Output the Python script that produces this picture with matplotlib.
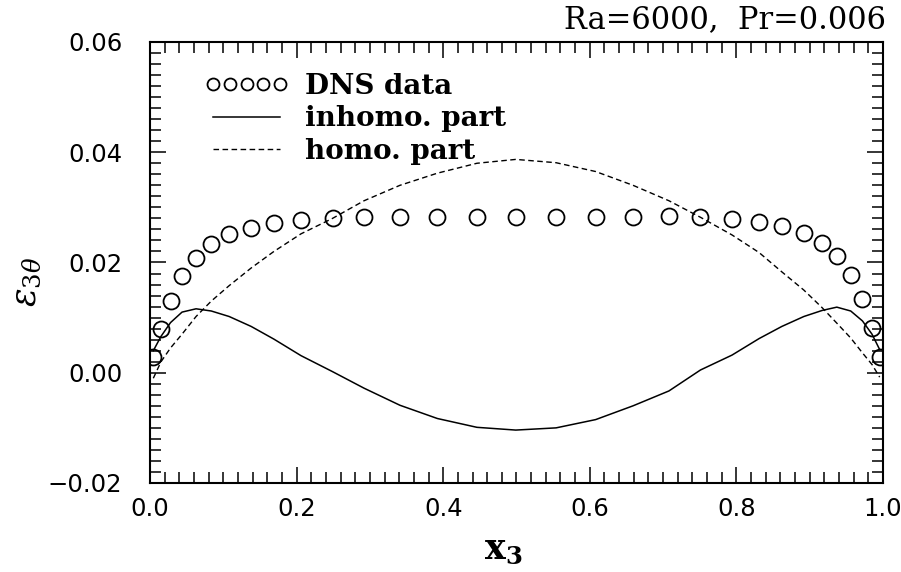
import numpy as np
import matplotlib
matplotlib.use("Agg")
import matplotlib.pyplot as plt
from matplotlib.ticker import MultipleLocator

plt.rcParams['mathtext.fontset'] = 'dejavuserif'

# wall-normal positions (shared by DNS points and model curves)
x3 = [0.0045, 0.015, 0.028, 0.0437, 0.0628, 0.0836, 0.108, 0.138, 0.169, 0.206,
      0.249, 0.292, 0.341, 0.392, 0.446, 0.499, 0.554, 0.608, 0.659, 0.708,
      0.751, 0.794, 0.831, 0.862, 0.892, 0.917, 0.937, 0.956, 0.972, 0.985, 0.9955]

# DNS data
dns = [0.0029, 0.0080, 0.0131, 0.0175, 0.0209, 0.0234, 0.0251, 0.0262, 0.0272, 0.0277,
       0.0281, 0.0283, 0.0283, 0.0283, 0.0282, 0.0282, 0.0282, 0.0282, 0.0283, 0.0284,
       0.0282, 0.0278, 0.0273, 0.0266, 0.0254, 0.0236, 0.0212, 0.0177, 0.0133, 0.0082, 0.0029]

# inhomogeneous part
inhomo = [0.0040, 0.0066, 0.0091, 0.0110, 0.0116, 0.0112, 0.0102, 0.0084, 0.0061, 0.0031,
          0.0002, -0.0028, -0.0059, -0.0083, -0.0099, -0.0104, -0.0100, -0.0085, -0.0060, -0.0033,
          0.0005, 0.0032, 0.0062, 0.0084, 0.0102, 0.0113, 0.0119, 0.0112, 0.0094, 0.0070, 0.0042]

# homogeneous part
homo = [-0.0010, 0.0020, 0.0045, 0.0070, 0.0102, 0.0130, 0.0158, 0.0190, 0.0220, 0.0252,
        0.0280, 0.0312, 0.0340, 0.0362, 0.0380, 0.0387, 0.0381, 0.0365, 0.0340, 0.0312,
        0.0282, 0.0250, 0.0218, 0.0183, 0.0150, 0.0118, 0.0090, 0.0063, 0.0036, 0.0015, -0.0008]

fig = plt.figure(figsize=(9.01, 5.72), dpi=100)
ax = fig.add_axes([0.1665, 0.1556, 0.8135, 0.771])

ax.plot(x3, dns, 'o', ms=11.5, mfc='none', mec='black', mew=1.3, label='DNS data')
ax.plot(x3, inhomo, '-', color='black', lw=1.1, label='inhomo. part')
ax.plot(x3, homo, color='black', lw=1.0, ls=(0, (4, 2.5)), label='homo. part')

ax.set_xlim(0, 1)
ax.set_ylim(-0.02, 0.06)
ax.xaxis.set_major_locator(MultipleLocator(0.2))
ax.xaxis.set_minor_locator(MultipleLocator(0.02))
ax.yaxis.set_major_locator(MultipleLocator(0.02))
ax.yaxis.set_minor_locator(MultipleLocator(0.002))
ax.xaxis.set_major_formatter(plt.FuncFormatter(lambda v, p: '%.1f' % v))
ax.yaxis.set_major_formatter(plt.FuncFormatter(lambda v, p: ('%.2f' % v).replace('-', '\u2212')))

ax.tick_params(which='both', direction='in', top=True, right=True, width=1.1,
               labelsize=17.5)
ax.tick_params(axis='x', pad=10)
ax.tick_params(axis='y', pad=20)
ax.tick_params(which='major', length=11.5)
ax.tick_params(which='minor', length=8)
for lab in ax.get_xticklabels() + ax.get_yticklabels():
    lab.set_family('DejaVu Sans')
for s in ax.spines.values():
    s.set_linewidth(1.5)

ax.set_xlabel(r'$\mathbf{x_3}$', fontsize=25)
ax.xaxis.set_label_coords(0.482, -0.11)
ax.set_ylabel(r'$\epsilon_{3\theta}$', fontsize=25)
ax.yaxis.set_label_coords(-0.146, 0.456)
fig.text(0.983, 0.966, 'Ra=6000,  Pr=0.006', ha='right', va='center',
         family='DejaVu Serif', fontsize=22)

leg = ax.legend(loc='upper left', bbox_to_anchor=(0.06, 0.955), frameon=False,
                numpoints=5, markerscale=0.75, handlelength=3.0, handletextpad=0.6,
                labelspacing=0.2, borderaxespad=0,
                prop={'family': 'DejaVu Serif', 'weight': 'bold', 'size': 20})

fig.savefig('out.png', dpi=100)
